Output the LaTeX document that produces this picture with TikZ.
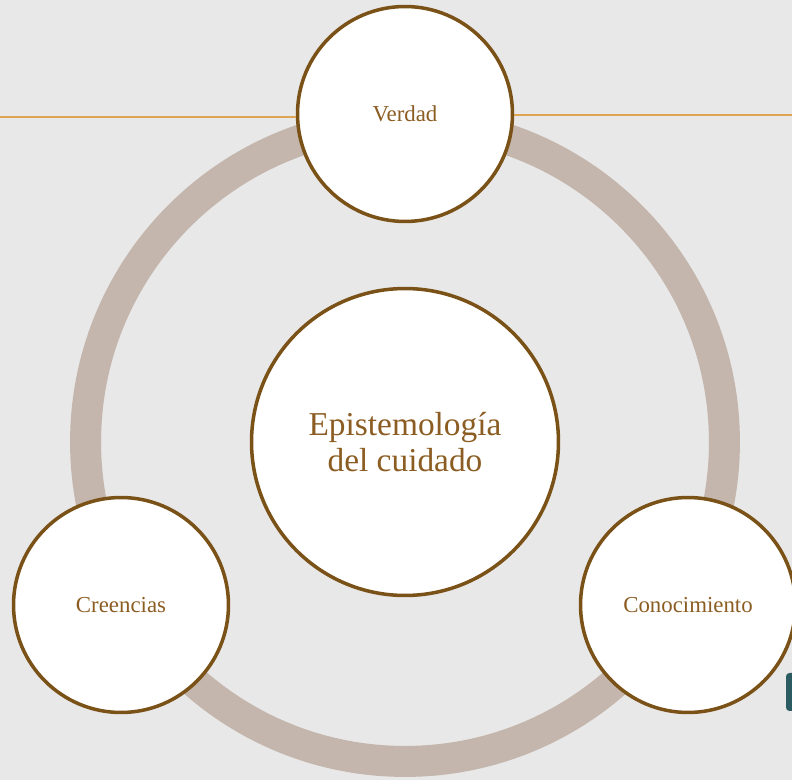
\documentclass[tikz,border=0pt]{standalone}
\usepackage{fontspec}
\setmainfont{Liberation Serif}
\usepackage{tikz}
\usetikzlibrary{positioning}
\definecolor{bgGray}{HTML}{E8E8E8}
\definecolor{ringTan}{HTML}{C4B6AC}
\definecolor{rimBrown}{HTML}{7A5117}
\definecolor{txtBrown}{HTML}{8C5D22}
\definecolor{lineGold}{HTML}{E0A552}
\definecolor{tealMark}{HTML}{2B5C62}

\begin{document}
\begin{tikzpicture}[x=0.02cm,y=-0.02cm,
    main node/.style={circle,draw=rimBrown,fill=white,line width=2pt,text=txtBrown,minimum size=6.14cm,align=center,font=\fontsize{19}{20.5}\selectfont},
    small node/.style={circle,draw=rimBrown,fill=white,line width=2pt,text=txtBrown,minimum size=4.3cm,font=\fontsize{13}{15}\selectfont},
    ring line/.style={draw=ringTan,line width=0.62cm},
    gold line/.style={draw=lineGold,line width=1.3pt}]
  \fill[bgGray] (0,0) rectangle (792,780);
  \useasboundingbox (0,0) rectangle (792,780);
  \begin{scope}
    \coordinate (ringc) at (405,442);
    \coordinate (lineL) at (0,117);
    \coordinate (lineR) at (792,115);
    \path[ring line] (ringc) circle (6.39cm);
    \node[small node] (verdad) at (405,114) {Verdad};
    \path[gold line] (lineL) -- (lineL -| verdad.west);
    \path[gold line] (lineR -| verdad.east) -- (lineR);
    \node[main node] (epi) at (ringc) {Epistemología\\del cuidado};
    \node[small node] (creencias) at (121,605) {Creencias};
    \node[small node] (conoc) at (688,605) {Conocimiento};
    \fill[tealMark,rounded corners=2pt] (786,673) rectangle (796,711);
  \end{scope}
\end{tikzpicture}
\end{document}
